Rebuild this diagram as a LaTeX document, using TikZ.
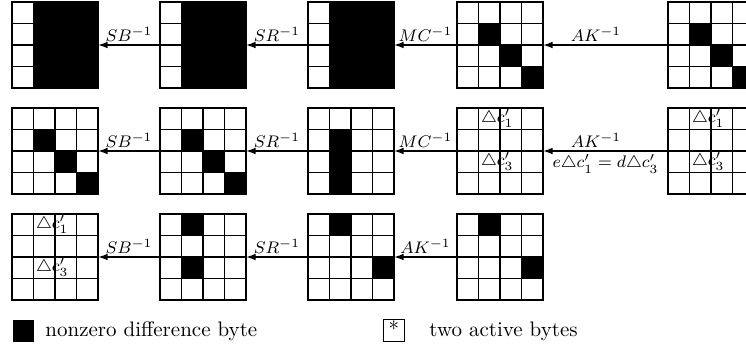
\documentclass[tikz,border=0pt]{standalone}
\usetikzlibrary{arrows.meta,calc}
\tikzset{
  cellbox/.style={draw, line width=0.65pt, minimum width=40.95pt, minimum height=40.95pt, inner sep=0pt, outer sep=0pt},
  cellline/.style={line width=0.65pt},
  darkcell/.style={fill=black},
  revarrow/.style={line width=0.65pt, -{Latex[length=4.6pt,width=3.2pt]}},
  oplabel/.style={font=\footnotesize, inner sep=1.5pt},
  difflabel/.style={font=\footnotesize, inner sep=1pt, anchor=west},
  legendtext/.style={anchor=base west, inner sep=0pt},
}
\newcommand\darkcells[3]{%
  \foreach \r/\c in {#3} {\fill[darkcell] (#1+\c*21.5, #2+\r*21.5) rectangle ++(21.5,21.5);}%
}
\newcommand\stategrid[3]{%
  \foreach \k in {1,2,3} {%
    \draw[cellline] (#2+\k*21.5, #3) -- ++(0,86);
    \draw[cellline] (#2, #3+\k*21.5) -- ++(86,0);
  }%
  \node[cellbox] (#1) at (#2+43, #3+43) {};%
}
\newcommand\difftext[3]{%
  \node[difflabel] (#1a) at (#2+21.5, #3+10.75) {$\triangle c'_1$};
  \node[difflabel] (#1b) at (#2+21.5, #3+53.75) {$\triangle c'_3$};
}
\begin{document}
\begin{tikzpicture}[x=0.4762pt, y=-0.4762pt]
\useasboundingbox (0,0) rectangle (746,348);
% row 1
\darkcells{12}{2}{0/1,0/2,0/3,1/1,1/2,1/3,2/1,2/2,2/3,3/1,3/2,3/3}
\stategrid{ga1}{12}{2}
\darkcells{160}{2}{0/1,0/2,0/3,1/1,1/2,1/3,2/1,2/2,2/3,3/1,3/2,3/3}
\stategrid{ga2}{160}{2}
\darkcells{308}{2}{0/1,0/2,0/3,1/1,1/2,1/3,2/1,2/2,2/3,3/1,3/2,3/3}
\stategrid{ga3}{308}{2}
\darkcells{457}{2}{1/1,2/2,3/3}
\stategrid{ga4}{457}{2}
\darkcells{668}{2}{1/1,2/2,3/3}
\stategrid{ga5}{668}{2}
\draw[revarrow] (ga2.west) -- (ga1.east) node[oplabel, midway, above] {$SB^{-1}$};
\draw[revarrow] (ga3.west) -- (ga2.east) node[oplabel, midway, above] {$SR^{-1}$};
\draw[revarrow] (ga4.west) -- (ga3.east) node[oplabel, midway, above] {$MC^{-1}$};
\draw[revarrow] (ga5.west) -- (ga4.east) node[oplabel, pos=0.576, above] {$AK^{-1}$};
% row 2
\darkcells{12}{108}{1/1,2/2,3/3}
\stategrid{gb1}{12}{108}
\darkcells{160}{108}{1/1,2/2,3/3}
\stategrid{gb2}{160}{108}
\darkcells{308}{108}{1/1,2/1,3/1}
\stategrid{gb3}{308}{108}
\stategrid{gb4}{457}{108}
\difftext{gb4}{457}{108}
\stategrid{gb5}{668}{108}
\difftext{gb5}{668}{108}
\draw[revarrow] (gb2.west) -- (gb1.east) node[oplabel, midway, above] {$SB^{-1}$};
\draw[revarrow] (gb3.west) -- (gb2.east) node[oplabel, midway, above] {$SR^{-1}$};
\draw[revarrow] (gb4.west) -- (gb3.east) node[oplabel, midway, above] {$MC^{-1}$};
\draw[revarrow] (gb5.west) -- (gb4.east) node[oplabel, pos=0.576, above] {$AK^{-1}$}
  node[oplabel, midway, below] {$e\triangle c'_1=d\triangle c'_3$};
% row 3
\stategrid{gc1}{12}{214}
\difftext{gc1}{12}{214}
\darkcells{160}{214}{0/1,2/1}
\stategrid{gc2}{160}{214}
\darkcells{308}{214}{0/1,2/3}
\stategrid{gc3}{308}{214}
\darkcells{457}{214}{0/1,2/3}
\stategrid{gc4}{457}{214}
\draw[revarrow] (gc2.west) -- (gc1.east) node[oplabel, midway, above] {$SB^{-1}$};
\draw[revarrow] (gc3.west) -- (gc2.east) node[oplabel, midway, above] {$SR^{-1}$};
\draw[revarrow] (gc4.west) -- (gc3.east) node[oplabel, midway, above] {$AK^{-1}$};
% legend
\node[fill=black, minimum size=10.24pt, inner sep=0pt] (legdark) at (23.5,331) {};
\node[legendtext] (legdarktext) at (45,336) {nonzero difference byte};
\node[draw, line width=0.5pt, minimum width=10.4pt, inner sep=0pt, text height=8pt, text depth=2.2pt] (legast) at (394,330.5) {*};
\node[legendtext] (legasttext) at (429,336) {two active bytes};
\end{tikzpicture}
\end{document}
